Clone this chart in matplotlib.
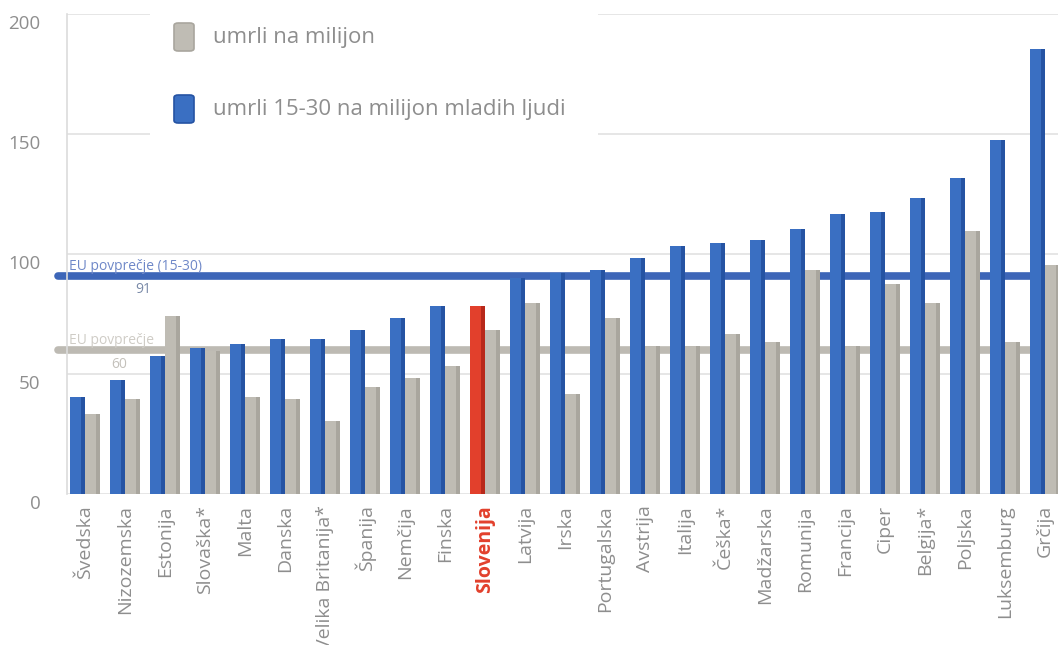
import numpy as np
import matplotlib
matplotlib.use("Agg")
import matplotlib.pyplot as plt
from matplotlib.patches import Rectangle, FancyBboxPatch
import matplotlib.transforms as mtransforms

plt.rcParams['font.family'] = ['Open Sans', 'DejaVu Sans']

# data
countries = ['Švedska', 'Nizozemska', 'Estonija', 'Slovaška*', 'Malta', 'Danska',
             'Velika Britanija*', 'Španija', 'Nemčija', 'Finska', 'Slovenija',
             'Latvija', 'Irska', 'Portugalska', 'Avstrija', 'Italija', 'Češka*',
             'Madžarska', 'Romunija', 'Francija', 'Ciper', 'Belgija*', 'Poljska',
             'Luksemburg', 'Grčija']
young = [40.5, 47.5, 57.5, 61, 62.5, 64.5, 64.5, 68.5, 73.5, 78.5, 78.5, 90, 92,
         93.5, 98.5, 103.5, 104.5, 106, 110.5, 116.5, 117.5, 123.5, 131.5, 147.5, 185.5]
total = [33.5, 39.5, 74, 59.5, 40.5, 39.5, 30.5, 44.5, 48.5, 53.5, 68.5, 79.5, 41.5,
         73.5, 61.5, 61.5, 66.5, 63.5, 93.5, 61.5, 87.5, 79.5, 109.5, 63.5, 95.5]
eu_young = 91
eu_total = 60
highlight = 'Slovenija'

blue = '#3a6fc2'
blue_dark = '#2553a3'
grey = '#bfbcb4'
grey_dark = '#a9a69e'
red = '#e2402c'
red_dark = '#b8281a'
txt = '#8e8e8e'

fig = plt.figure(figsize=(10.58, 6.45), dpi=100)
ax = fig.add_axes([67/1058, 151/645, 1 - 67/1058, 480/645])

x = np.arange(len(countries))
w = 0.37
bcol = [red if c == highlight else blue for c in countries]
bdark = [red_dark if c == highlight else blue_dark for c in countries]

ax.bar(x - 0.19, young, width=w, color=bcol, zorder=3)
ax.bar(x - 0.19 + w/2 - 0.05, young, width=0.1, color=bdark, zorder=3.1)
ax.bar(x + 0.19, total, width=w, color=grey, zorder=3)
ax.bar(x + 0.19 + w/2 - 0.05, total, width=0.1, color=grey_dark, zorder=3.1)

# EU average lines
ax.plot([-0.68, 24.4], [eu_young, eu_young], color='#3d66b8', lw=5.5,
        solid_capstyle='round', zorder=2, clip_on=False)
ax.plot([-0.68, 24.4], [eu_total, eu_total], color='#bdbab3', lw=5.5,
        solid_capstyle='round', zorder=2, clip_on=False)
ax.text(-0.4, eu_young + 2.3, 'EU povprečje (15-30)', color='#6f88c8', fontsize=10, zorder=2)
ax.text(1.45, eu_young - 2.8, str(eu_young), color='#7a8aa8', fontsize=10, va='top', ha='center', zorder=2)
ax.text(-0.4, eu_total + 2.3, 'EU povprečje', color='#cfccc6', fontsize=10, zorder=2)
ax.text(0.85, eu_total - 2.8, str(eu_total), color='#c4c1bb', fontsize=10, va='top', ha='center', zorder=2)

ax.set_xlim(-0.45, 24.33)
ax.set_ylim(0, 200)
ax.set_yticks([0, 50, 100, 150, 200])
ax.grid(axis='y', color='#e2e2e2', lw=1.2)
ax.set_axisbelow(True)
for s in ['top', 'right', 'bottom']:
    ax.spines[s].set_visible(False)
ax.spines['left'].set_color('#dcdcdc')
ax.spines['left'].set_linewidth(1.2)
ax.tick_params(axis='both', length=0)
ax.tick_params(axis='y', pad=19, labelsize=13.5, labelcolor=txt)
off = mtransforms.ScaledTranslation(0, -8/100, fig.dpi_scale_trans)
for lab in ax.get_yticklabels():
    lab.set_transform(lab.get_transform() + off)

ax.set_xticks(x)
ax.set_xticklabels(countries, rotation=90, fontsize=14, color=txt)
ax.tick_params(axis='x', pad=8)
for lab in ax.get_xticklabels():
    if lab.get_text() == highlight:
        lab.set_color(red)
        lab.set_fontweight('bold')

# legend area
def fx(px):
    return px / 1058

def fy(py):
    return 1 - py / 645

ax.add_patch(Rectangle((fx(150), fy(141)), fx(598) - fx(150), fy(2) - fy(141),
                       transform=fig.transFigure, facecolor='white', edgecolor='none',
                       zorder=1.5, clip_on=False))
for (top, fc, ec) in [(23, grey, grey_dark), (95, blue, blue_dark)]:
    p = FancyBboxPatch((fx(174), fy(top + 28)), fx(20), fy(top) - fy(top + 28),
                       boxstyle='round,pad=0,rounding_size=0.004',
                       transform=fig.transFigure, facecolor=fc, edgecolor=ec, lw=1.2,
                       zorder=4, clip_on=False)
    ax.add_patch(p)
fig.text(fx(213), fy(38), 'umrli na milijon', color=txt, fontsize=16, va='center')
fig.text(fx(213), fy(110), 'umrli 15-30 na milijon mladih ljudi', color=txt, fontsize=16, va='center')

fig.savefig('out.png', dpi=100)
